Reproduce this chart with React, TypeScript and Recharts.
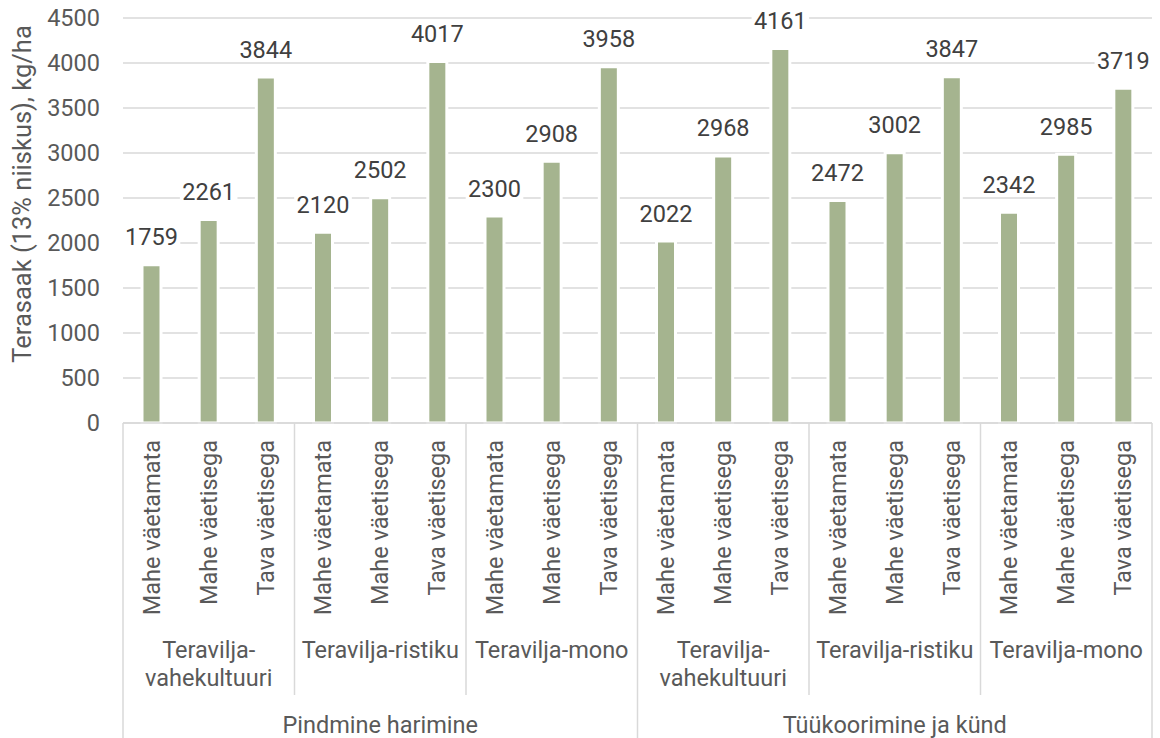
import React from "react";
import { BarChart, Bar, XAxis, YAxis, CartesianGrid, LabelList } from "recharts";

const tillage = ["Pindmine harimine", "Tüükoorimine ja künd"];
const rotations = [["Teravilja-", "vahekultuuri"], ["Teravilja-ristiku"], ["Teravilja-mono"]];
const treatments = ["Mahe väetamata", "Mahe väetisega", "Tava väetisega"];
const yieldValues = [1759, 2261, 3844, 2120, 2502, 4017, 2300, 2908, 3958, 2022, 2968, 4161, 2472, 3002, 3847, 2342, 2985, 3719];
const yTicks = [0, 500, 1000, 1500, 2000, 2500, 3000, 3500, 4000, 4500];
const yTitle = "Terasaak (13% niiskus), kg/ha";

const data = [] as { key: string; label: string; value: number; ti: number; ri: number; fi: number }[];
tillage.forEach((t, ti) =>
  rotations.forEach((r, ri) =>
    treatments.forEach((f, fi) => {
      const idx = data.length;
      data.push({ key: `${ti}-${ri}-${fi}`, label: f, value: yieldValues[idx], ti, ri, fi });
    })
  )
);

const W = 1160;
const H = 738;
const Y_AXIS_W = 123;
const M = { top: 18, right: 8, bottom: 0, left: 0 };
const X_AXIS_H = 315;
const PLOT_W = W - Y_AXIS_W - M.left - M.right;
const BW = PLOT_W / data.length;

const GRID = "#d9d9d9";
const TEXT = "#595959";
const BAR = "#a5b48f";
const FS = 23.5;

const XTick = (props: any) => {
  const { x, y, payload } = props;
  const i = payload.index;
  const d = data[i];
  const ty = y + 17;
  const els: React.ReactNode[] = [];
  els.push(
    <text key="t" x={x} y={ty} transform={`rotate(-90, ${x}, ${ty})`} textAnchor="end" dominantBaseline="central" fontSize={FS} fill={TEXT}>
      {d.label}
    </text>
  );
  if (i % 3 === 1) {
    const lines = rotations[d.ri];
    lines.forEach((ln, k) => {
      els.push(
        <text key={"r" + k} x={x} y={y + 227 + k * 28} textAnchor="middle" dominantBaseline="central" fontSize={FS} fill={TEXT}>
          {ln}
        </text>
      );
    });
  }
  if (i % 9 === 4) {
    els.push(
      <text key="g" x={x} y={y + 302} textAnchor="middle" dominantBaseline="central" fontSize={FS} fill={TEXT}>
        {tillage[d.ti]}
      </text>
    );
  }
  if (i % 3 === 0) {
    const len = i % 9 === 0 ? X_AXIS_H : 272;
    els.push(<line key="l" x1={x - BW / 2} x2={x - BW / 2} y1={y} y2={y + len} stroke={GRID} strokeWidth={1.5} />);
  }
  if (i === data.length - 1) {
    els.push(<line key="lr" x1={x + BW / 2} x2={x + BW / 2} y1={y} y2={y + X_AXIS_H} stroke={GRID} strokeWidth={1.5} />);
  }
  return <g>{els}</g>;
};

const ValueLabel = (props: any) => {
  const { x, y, width, value } = props;
  const cx = x + width / 2;
  const cy = y - 27.5;
  const tw = String(value).length * 13.4 + 4;
  return (
    <g>
      <rect x={cx - tw / 2} y={cy - 11} width={tw} height={22} fill="#fff" />
      <text x={cx} y={cy} textAnchor="middle" dominantBaseline="central" fontSize={FS} fill="#404040">
        {value}
      </text>
    </g>
  );
};

const YTitle = () => (
  <text x={22} y={194} transform={`rotate(-90, 22, 194)`} textAnchor="middle" dominantBaseline="central" fontSize={25.5} fill={TEXT}>
    {yTitle}
  </text>
);

export default function App() {
  return (
    <div style={{ position: "absolute", left: 0, top: 0, fontFamily: "Roboto", background: "#fff" }}>
      <BarChart width={W} height={H} data={data} margin={M} barCategoryGap={0}>
        <CartesianGrid vertical={false} stroke={GRID} strokeWidth={1.5} />
        <XAxis
          dataKey="key"
          interval={0}
          height={X_AXIS_H}
          tickLine={false}
          tickSize={0}
          tickMargin={0}
          axisLine={{ stroke: GRID, strokeWidth: 1.5 }}
          tick={<XTick />}
        />
        <YAxis
          width={Y_AXIS_W}
          domain={[0, 4500]}
          ticks={yTicks}
          interval={0}
          axisLine={false}
          tickLine={false}
          tickSize={0}
          tickMargin={23}
          tick={{ fontSize: FS, fill: TEXT }}
          label={<YTitle />}
        />
        <Bar dataKey="value" fill={BAR} stroke="#fff" strokeWidth={3} barSize={19} isAnimationActive={false}>
          <LabelList dataKey="value" content={<ValueLabel />} />
        </Bar>
      </BarChart>
    </div>
  );
}
